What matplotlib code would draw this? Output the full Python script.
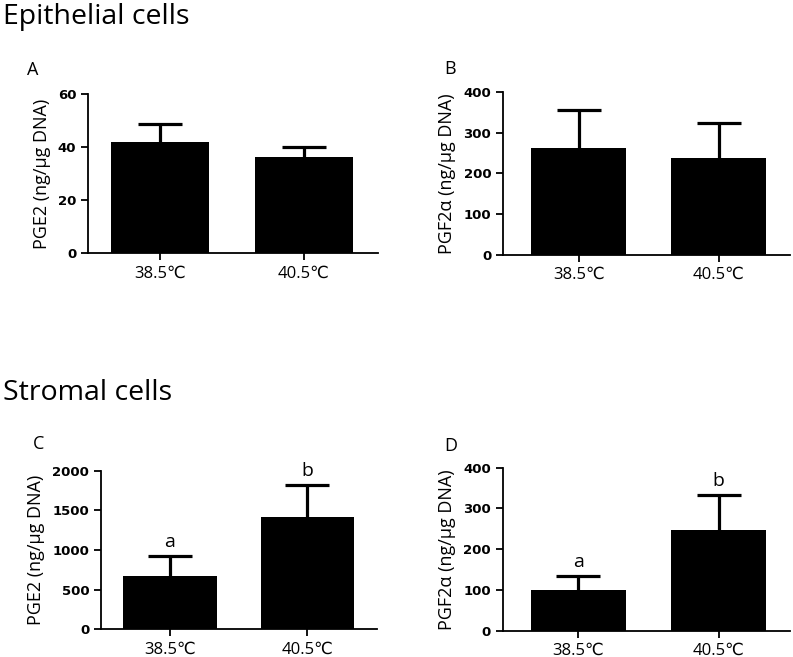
import matplotlib
matplotlib.use("Agg")
import matplotlib.pyplot as plt
import numpy as np

W, H = 793, 657
categories = ["38.5\u2103", "40.5\u2103"]

pge2_epi = [41.9, 36.1]
pge2_epi_err = [6.8, 4.0]
pgf_epi = [264, 239]
pgf_epi_err = [92, 86]
pge2_str = [672, 1412]
pge2_str_err = [256, 411]
pgf_str = [100, 248]
pgf_str_err = [35, 86]
sig_str = ["a", "b"]

FAM = ["Open Sans", "DejaVu Sans"]

fig = plt.figure(figsize=(W / 100, H / 100), dpi=100)

def px_axes(left, right, top, bottom):
    return fig.add_axes([left / W, 1 - bottom / H, (right - left) / W, (bottom - top) / H])

panels = [
    dict(box=(88, 378, 94, 253), vals=pge2_epi, err=pge2_epi_err, ymax=60, ticks=[0, 20, 40, 60],
         ylabel="PGE2 (ng/\u03bcg DNA)", letter="A", lpos=(27, 70), sig=None, xl=(-0.5, 1.514)),
    dict(box=(503, 790, 92.3, 254.7), vals=pgf_epi, err=pgf_epi_err, ymax=400, ticks=[0, 100, 200, 300, 400],
         ylabel="PGF2\u03b1 (ng/\u03bcg DNA)", letter="B", lpos=(444, 69), sig=None, xl=(-0.54, 1.51)),
    dict(box=(101, 377, 470.7, 629.3), vals=pge2_str, err=pge2_str_err, ymax=2000, ticks=[0, 500, 1000, 1500, 2000],
         ylabel="PGE2 (ng/\u03bcg DNA)", letter="C", lpos=(33, 444), sig=sig_str, xl=(-0.5, 1.505)),
    dict(box=(502.7, 790, 467.7, 630.7), vals=pgf_str, err=pgf_str_err, ymax=400, ticks=[0, 100, 200, 300, 400],
         ylabel="PGF2\u03b1 (ng/\u03bcg DNA)", letter="D", lpos=(444, 446), sig=sig_str, xl=(-0.54, 1.51)),
]

for p in panels:
    l, r, t, b = p["box"]
    ax = px_axes(l, r, t, b)
    x = np.arange(len(categories))
    vals = np.array(p["vals"], dtype=float)
    ax.bar(x, vals, width=0.68, color="black", zorder=2)
    _, caps, _ = ax.errorbar(x, vals, yerr=[np.zeros(len(x)), p["err"]], fmt="none", ecolor="black",
                             elinewidth=2.3, capsize=16, capthick=2.3, zorder=1)
    for c in caps:
        if np.allclose(np.asarray(c.get_ydata(), dtype=float), vals):
            c.set_visible(False)
    if p["sig"]:
        for xi, v, e, s in zip(x, vals, p["err"], p["sig"]):
            ax.text(xi, v + e + p["ymax"] * 0.03, s, ha="center", va="bottom", fontsize=14, family=FAM)
    ax.set_xlim(*p["xl"])
    ax.set_ylim(0, p["ymax"])
    ax.set_yticks(p["ticks"])
    ax.set_yticklabels([str(v) for v in p["ticks"]], fontsize=9.5, fontweight="bold", family="DejaVu Sans")
    ax.set_xticks(x)
    ax.set_xticklabels(categories, fontsize=12, family=FAM)
    ax.set_ylabel(p["ylabel"], fontsize=13, family=FAM, labelpad=5)
    for s in ["top", "right"]:
        ax.spines[s].set_visible(False)
    for s in ["left", "bottom"]:
        ax.spines[s].set_linewidth(1.3)
    ax.tick_params(axis="both", direction="out", length=5, width=1.3)
    ax.tick_params(axis="x", pad=4)
    fig.text(p["lpos"][0] / W, 1 - p["lpos"][1] / H, p["letter"], fontsize=13, family=FAM, ha="left", va="center")

fig.text(3 / W, 1 - 17 / H, "Epithelial cells", fontsize=20.5, family=FAM, ha="left", va="center")
fig.text(3 / W, 1 - 393 / H, "Stromal cells", fontsize=20.5, family=FAM, ha="left", va="center")

fig.savefig("out.png", dpi=100)
